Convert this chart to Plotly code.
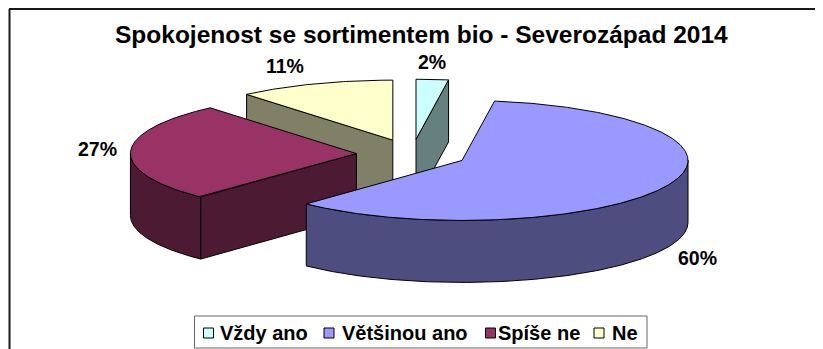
import math
import plotly.graph_objects as go

categories = ["Vždy ano", "Většinou ano", "Spíše ne", "Ne"]
values = [2.3, 59.8, 26.7, 11.2]
labels = ["2%", "60%", "27%", "11%"]

top_colors = ["#CCFFFF", "#9999FF", "#993366", "#FFFFCC"]
side_colors = ["#668080", "#4D4D80", "#4D1A33", "#808066"]
draw_order = [0, 3, 2, 1]

# the page has an 8px body margin: axes are set so that data units equal page pixels
M = 8
W, H = 823, 349
CX, CY = 412.0, 154.0
RX, RY = 226.0, 60.0
DEPTH = 62.0
EXPLODE = 0.246
LABEL_XY = [(432, 62), (697, 258), (97, 149), (285, 66)]
LEGEND_SWATCH_X = [208.5, 329, 490.5, 599]
LEGEND_TEXT_X = [220, 342, 498, 612]
LEGEND_Y = 333


def pt(theta, apex=(0.0, 0.0), r=1.0, dz=0.0):
    t = math.radians(theta)
    return (apex[0] + r * RX * math.sin(t), apex[1] - r * RY * math.cos(t) + dz)


def arc(a, b, apex, dz=0.0):
    n = max(2, int(abs(b - a) * 2))
    return [pt(a + (b - a) * i / n, apex, 1.0, dz) for i in range(n + 1)]


fig = go.Figure()


def face(points, color):
    xs = [p[0] for p in points] + [points[0][0]]
    ys = [p[1] for p in points] + [points[0][1]]
    fig.add_trace(go.Scatter(x=xs, y=ys, mode="lines", fill="toself", fillcolor=color,
                             line=dict(color="black", width=1), showlegend=False,
                             hoverinfo="skip"))


total = sum(values)
starts = []
acc = 0.0
for v in values:
    starts.append(acc)
    acc += v / total * 360.0

for i in draw_order:
    a = starts[i]
    b = a + values[i] / total * 360.0
    mid = (a + b) / 2
    apex = pt(mid, (CX, CY), EXPLODE)
    if math.cos(math.radians(a - 90)) < -1e-6:
        rim = pt(a, apex)
        face([apex, rim, (rim[0], rim[1] + DEPTH), (apex[0], apex[1] + DEPTH)], side_colors[i])
    if math.cos(math.radians(b + 90)) < -1e-6:
        rim = pt(b, apex)
        face([apex, rim, (rim[0], rim[1] + DEPTH), (apex[0], apex[1] + DEPTH)], side_colors[i])
    lo, hi = max(a, 90.0), min(b, 270.0)
    if hi > lo:
        face(arc(lo, hi, apex) + arc(hi, lo, apex, DEPTH), side_colors[i])
    face([apex] + arc(a, b, apex), top_colors[i])

annotations = []
for (x, y), t in zip(LABEL_XY, labels):
    annotations.append(dict(x=x, y=y, text=f"<b>{t}</b>", showarrow=False,
                            font=dict(family="Liberation Sans", size=19.5, color="black")))

for i, name in enumerate(categories):
    fig.add_trace(go.Scatter(x=[LEGEND_SWATCH_X[i]], y=[LEGEND_Y], mode="markers", name=name,
                             showlegend=False, hoverinfo="name",
                             marker=dict(symbol="square", size=10, color=top_colors[i],
                                         line=dict(color="black", width=1))))
    annotations.append(dict(x=LEGEND_TEXT_X[i], y=LEGEND_Y, text=f"<b>{name}</b>", showarrow=False,
                            xanchor="left", xshift=-2,
                            font=dict(family="Liberation Sans", size=20, color="black")))

annotations.append(dict(x=421, y=34, text="<b>Spokojenost se sortimentem bio - Severozápad 2014</b>",
                        showarrow=False,
                        font=dict(family="Liberation Sans", size=24.5, color="black")))

fig.update_layout(
    width=W - M, height=H - M, margin=dict(l=0, r=0, t=0, b=0),
    paper_bgcolor="white", plot_bgcolor="white", showlegend=False,
    xaxis=dict(range=[M, W], visible=False, fixedrange=True),
    yaxis=dict(range=[H, M], visible=False, fixedrange=True),
    annotations=annotations,
    shapes=[dict(type="line", xref="x", yref="y", x0=9.5, x1=9.5, y0=9, y1=H,
                 line=dict(color="#1a1a1a", width=2)),
            dict(type="line", xref="x", yref="y", x0=9, x1=W, y0=9, y1=9,
                 line=dict(color="#1a1a1a", width=2)),
            dict(type="rect", xref="x", yref="y", x0=194.5, x1=647, y0=316, y1=348,
                 line=dict(color="#666666", width=1), fillcolor="white", layer="below")],
)
fig.write_html("out.html", config=dict(displayModeBar=False))
